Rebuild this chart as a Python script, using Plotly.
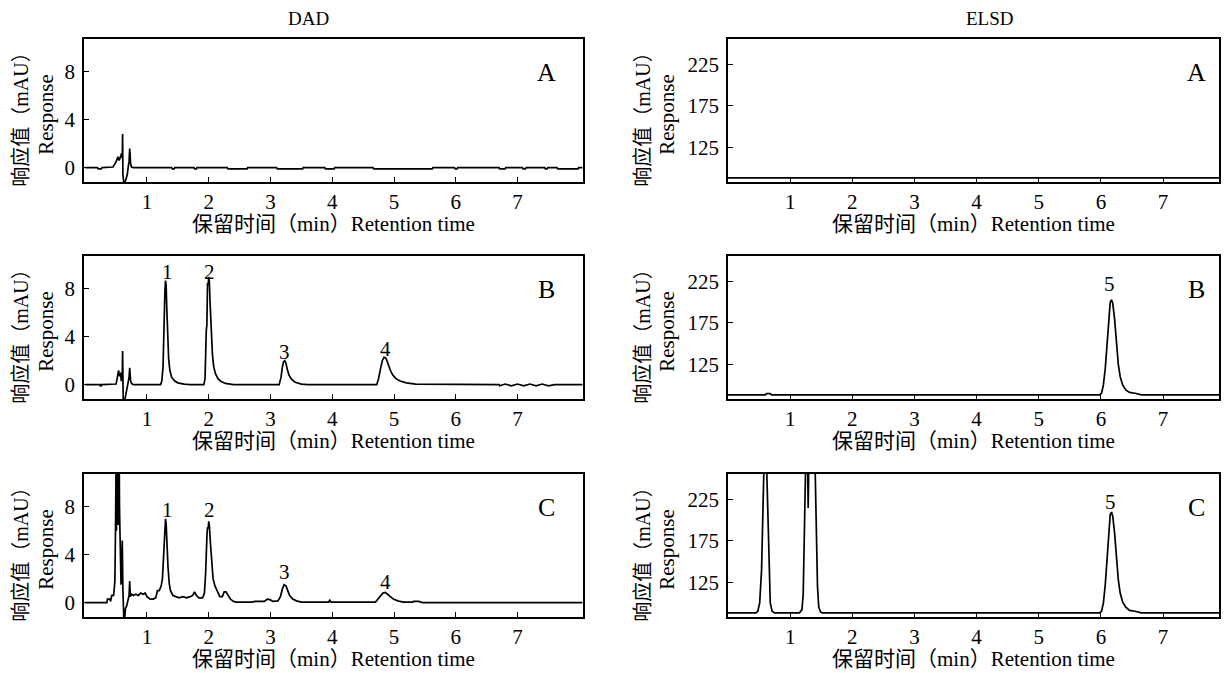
import plotly.graph_objects as go

# ---------------- data (time in min, response) ----------------
dad_a = [(0.00, 0.0), (0.20, 0.0), (0.21, -0.1), (0.26, -0.1), (0.27, 0.0), (0.45, 0.05),
         (0.50, 0.5), (0.53, 0.9), (0.55, 0.6), (0.57, 1.0), (0.59, 1.2), (0.600, 0.8),
         (0.605, 2.8), (0.610, -0.6), (0.615, -1.3), (0.625, -1.3), (0.64, -1.3), (0.66, -1.0),
         (0.68, -0.6), (0.70, 0.2), (0.71, 0.5), (0.72, 1.6), (0.725, 0.6), (0.735, 0.3),
         (0.75, 0.05), (0.78, 0.0),
         (1.40, 0.0), (1.41, -0.1), (1.44, -0.1), (1.45, 0.0),
         (1.76, 0.0), (1.77, -0.1), (1.80, -0.1), (1.81, 0.0),
         (2.30, 0.0), (2.31, -0.1), (2.62, -0.1), (2.63, 0.0),
         (3.10, 0.0), (3.11, -0.1), (3.52, -0.1), (3.53, 0.0),
         (3.88, 0.0), (3.89, -0.1), (4.03, -0.1), (4.04, 0.0),
         (4.66, 0.0), (4.67, -0.1), (5.62, -0.1), (5.63, 0.0),
         (5.98, 0.0), (5.99, -0.1), (6.02, -0.1), (6.03, 0.0),
         (6.70, 0.0), (6.71, -0.1), (6.80, -0.1), (6.81, 0.0),
         (7.08, 0.0), (7.09, -0.1), (7.13, -0.1), (7.14, 0.0),
         (7.44, 0.0), (7.45, -0.1), (7.48, -0.1), (7.49, 0.0),
         (7.64, 0.0), (7.65, -0.1), (7.98, -0.1), (7.99, 0.0), (8.05, 0.0)]

dad_b = [(0.00, 0.0), (0.24, 0.0), (0.245, -0.1), (0.26, -0.1), (0.265, 0.0), (0.50, 0.05),
         (0.52, 0.6), (0.54, 1.2), (0.555, 0.7), (0.57, 1.0), (0.585, 0.3), (0.60, 1.0),
         (0.605, 2.8), (0.61, -0.5), (0.615, -1.3), (0.64, -1.3), (0.655, -0.9), (0.67, -0.5),
         (0.69, 0.2), (0.71, 0.6), (0.72, 1.4), (0.725, 0.5), (0.735, 0.3), (0.75, 0.1), (0.78, 0.0),
         (1.22, 0.0), (1.24, 0.3), (1.26, 1.5), (1.27, 4.3), (1.28, 4.5), (1.29, 7.8), (1.30, 8.7),
         (1.31, 8.3), (1.32, 6.5), (1.33, 4.5), (1.35, 2.2), (1.37, 1.2), (1.40, 0.6), (1.45, 0.3),
         (1.50, 0.15), (1.60, 0.05), (1.70, 0.0),
         (1.92, 0.0), (1.94, 0.5), (1.96, 4.5), (1.97, 5.0), (1.98, 8.5), (1.99, 8.3), (2.00, 9.0),
         (2.01, 8.6), (2.02, 7.0), (2.04, 4.0), (2.06, 2.5), (2.08, 1.5), (2.11, 0.9), (2.15, 0.5),
         (2.20, 0.25), (2.27, 0.1), (2.40, 0.0),
         (3.14, 0.0), (3.17, 0.6), (3.19, 1.4), (3.21, 1.9), (3.23, 2.0), (3.25, 1.8), (3.27, 1.3),
         (3.30, 0.8), (3.34, 0.45), (3.40, 0.2), (3.50, 0.05), (3.60, 0.0),
         (4.72, 0.0), (4.75, 0.5), (4.78, 1.3), (4.81, 2.0), (4.84, 2.3), (4.87, 2.2), (4.90, 1.8),
         (4.94, 1.2), (4.98, 0.8), (5.03, 0.5), (5.10, 0.3), (5.20, 0.15), (5.35, 0.05),
         (5.45, 0.05), (5.46, 0.0),
         (6.70, 0.0), (6.71, -0.1), (6.80, 0.05), (6.90, -0.1), (7.00, 0.05), (7.10, -0.1),
         (7.20, 0.05), (7.30, -0.1), (7.40, 0.05), (7.50, -0.1), (7.60, 0.0), (8.05, 0.0)]

dad_c = [(0.00, 0.0), (0.35, 0.0), (0.36, 0.3), (0.40, 0.3), (0.41, 0.1), (0.43, 0.6), (0.46, 0.6),
         (0.48, 1.8), (0.49, 6.0), (0.50, 12.0), (0.505, 6.0), (0.51, 12.0), (0.515, 6.5),
         (0.52, 12.0), (0.525, 7.0), (0.53, 12.0), (0.535, 6.5), (0.54, 12.0), (0.545, 7.0),
         (0.55, 12.0), (0.555, 8.0), (0.56, 6.5), (0.57, 2.0), (0.58, 1.5),
         (0.59, 3.5), (0.60, 5.2), (0.61, 1.0), (0.625, -1.3), (0.64, -1.3), (0.65, -0.5),
         (0.67, -0.3), (0.69, 0.2), (0.71, 0.6), (0.72, 1.8), (0.73, 0.5), (0.75, 0.7), (0.78, 0.6),
         (0.82, 0.7), (0.86, 0.6), (0.90, 0.8), (0.94, 0.7), (0.97, 0.8), (1.00, 0.5), (1.05, 0.3),
         (1.10, 0.3), (1.14, 0.4), (1.17, 1.0), (1.20, 1.0), (1.23, 1.4), (1.25, 2.0), (1.27, 4.5),
         (1.28, 5.0), (1.29, 6.7), (1.30, 7.0), (1.31, 6.6), (1.32, 5.2), (1.34, 3.0), (1.36, 1.6),
         (1.38, 1.0), (1.42, 0.6), (1.47, 0.5), (1.52, 0.4), (1.58, 0.5), (1.64, 0.4), (1.70, 0.5),
         (1.74, 0.6), (1.77, 0.9), (1.80, 0.6), (1.84, 0.4), (1.90, 0.4), (1.93, 0.8), (1.95, 2.5),
         (1.97, 5.5), (1.98, 6.3), (1.99, 6.2), (2.00, 6.8), (2.01, 6.4), (2.03, 4.8), (2.05, 3.0),
         (2.07, 2.0), (2.10, 1.4), (2.14, 0.9), (2.18, 0.5), (2.22, 0.5), (2.25, 0.9), (2.28, 0.9),
         (2.31, 0.6), (2.35, 0.3), (2.40, 0.1), (2.45, 0.05), (2.70, 0.05), (2.75, 0.1), (2.90, 0.1),
         (2.95, 0.3), (2.99, 0.25), (3.04, 0.1), (3.12, 0.15), (3.16, 0.5), (3.19, 1.1), (3.22, 1.5),
         (3.25, 1.4), (3.28, 1.0), (3.31, 0.6), (3.36, 0.3), (3.42, 0.15), (3.50, 0.05), (3.70, 0.05),
         (3.72, 0.0), (3.94, 0.05), (3.96, 0.2), (3.98, 0.05), (4.70, 0.05), (4.74, 0.3), (4.78, 0.6),
         (4.82, 0.8), (4.86, 0.85), (4.90, 0.7), (4.94, 0.5), (4.99, 0.3), (5.06, 0.15), (5.15, 0.05),
         (5.30, 0.05), (5.32, 0.1), (5.40, 0.1), (5.45, 0.05), (5.46, 0.0), (8.05, 0.0)]

elsd_a = [(0.00, 88.0), (7.95, 88.0)]

elsd_b = [(0.00, 88.0), (0.60, 88.0), (0.62, 89.5), (0.68, 89.5), (0.70, 88.0), (5.98, 88.0),
          (6.01, 90.0), (6.04, 100.0), (6.07, 120.0), (6.10, 150.0), (6.13, 185.0), (6.15, 200.0),
          (6.17, 203.0), (6.19, 199.0), (6.22, 180.0), (6.25, 150.0), (6.28, 125.0), (6.31, 110.0),
          (6.35, 100.0), (6.40, 94.0), (6.46, 91.0), (6.55, 90.0), (6.62, 89.0), (6.65, 88.0),
          (7.95, 88.0)]

elsd_c = [(0.00, 88.0), (0.45, 88.0), (0.48, 90.0), (0.51, 100.0), (0.54, 140.0), (0.56, 220.0),
          (0.58, 270.0), (0.62, 270.0), (0.64, 210.0), (0.66, 130.0), (0.68, 100.0), (0.71, 90.0),
          (0.75, 88.0), (1.15, 88.0), (1.19, 92.0), (1.21, 110.0), (1.23, 180.0), (1.25, 270.0),
          (1.28, 270.0), (1.29, 215.0), (1.30, 270.0), (1.40, 270.0), (1.42, 200.0), (1.44, 120.0),
          (1.46, 95.0), (1.49, 89.0), (1.52, 88.0), (5.98, 88.0), (6.01, 90.0), (6.04, 100.0),
          (6.07, 122.0), (6.10, 155.0), (6.13, 192.0), (6.15, 207.0), (6.17, 210.0), (6.19, 205.0),
          (6.22, 185.0), (6.25, 155.0), (6.28, 128.0), (6.31, 112.0), (6.35, 101.0), (6.40, 95.0),
          (6.46, 91.0), (6.55, 90.0), (6.62, 89.0), (6.65, 88.0), (7.95, 88.0)]

# peak labels: (panel, time, y, text); panels 1..6 = A-DAD, A-ELSD, B-DAD, B-ELSD, C-DAD, C-ELSD
peak_labels = [
    (3, 1.33, 9.45, "1"), (3, 2.02, 9.45, "2"), (3, 3.23, 2.75, "3"), (3, 4.87, 2.95, "4"),
    (4, 6.14, 222.0, "5"),
    (5, 1.33, 7.75, "1"), (5, 2.02, 7.75, "2"), (5, 3.23, 2.55, "3"), (5, 4.87, 1.7, "4"),
    (6, 6.15, 222.0, "5"),
]

panel_letters = ["A", "A", "B", "B", "C", "C"]
column_titles = ["DAD", "ELSD"]

dad_ticks = [0, 4, 8]
elsd_ticks = [125, 175, 225]
time_ticks = [1, 2, 3, 4, 5, 6, 7]

x_title = "保留时间（min）Retention time"
y_title_cn = "响应值（mAU）"
y_title_en = "Response"

# ---------------- layout ----------------
W, H = 1225, 673
SERIF = "'Liberation Serif', 'Times New Roman', 'Noto Sans CJK SC', serif"

rows_px = [(39, 182), (256, 399), (474, 617)]
cols_px = [(84, 583), (728, 1219)]
x_ranges = [[-0.02, 8.06], [0.0, 7.9]]
y_ranges = [[-1.2, 10.75], [83.0, 256.0]]

series = [dad_a, elsd_a, dad_b, elsd_b, dad_c, elsd_c]

fig = go.Figure()
annotations = []


def ann(**kw):
    base = dict(showarrow=False, xanchor="center", yanchor="middle")
    base.update(kw)
    annotations.append(base)


for i, data in enumerate(series):
    r, c = divmod(i, 2)
    n = i + 1
    suffix = "" if n == 1 else str(n)
    t = [p[0] for p in data]
    v = [p[1] for p in data]
    fig.add_trace(go.Scatter(x=t, y=v, mode="lines", line=dict(color="black", width=1.7),
                             xaxis="x" + suffix, yaxis="y" + suffix, showlegend=False,
                             hoverinfo="skip"))
    top, bot = rows_px[r]
    left, right = cols_px[c]
    common = dict(showline=True, linecolor="black", linewidth=1.7, mirror=True,
                  ticks="inside", ticklen=5, tickwidth=1.4, tickcolor="black",
                  showgrid=False, zeroline=False,
                  tickfont=dict(family=SERIF, size=21, color="black"))
    fig.layout["xaxis" + suffix] = dict(
        common, domain=[left / W, right / W], range=x_ranges[c],
        tickvals=time_ticks, anchor="y" + suffix)
    fig.layout["yaxis" + suffix] = dict(
        common, domain=[1 - bot / H, 1 - top / H], range=y_ranges[c],
        tickvals=dad_ticks if c == 0 else elsd_ticks, anchor="x" + suffix,
        ticklabelstandoff=3)

    # panel letter
    letter_px = 546 if c == 0 else 1196
    ann(text=panel_letters[i], xref="paper", yref="y%s domain" % suffix,
        x=letter_px / W, y=0.765, font=dict(family=SERIF, size=26, color="black"))
    # x axis title
    ann(text=x_title, xref="x%s domain" % suffix, yref="paper",
        x=0.5, y=1 - (bot + 42) / H, font=dict(family=SERIF, size=21, color="black"))
    # y axis titles (two rotated lines)
    cx_cn = 21 if c == 0 else 643
    cx_en = 46 if c == 0 else 667
    ann(text=y_title_cn, xref="paper", yref="y%s domain" % suffix,
        x=cx_cn / W, y=0.47, textangle=-90, font=dict(family=SERIF, size=20, color="black"))
    ann(text=y_title_en, xref="paper", yref="y%s domain" % suffix,
        x=cx_en / W, y=0.47, textangle=-90, font=dict(family=SERIF, size=21, color="black"))

for panel, tx, ty, txt in peak_labels:
    suffix = "" if panel == 1 else str(panel)
    ann(text=txt, xref="x" + suffix, yref="y" + suffix, x=tx, y=ty,
        font=dict(family=SERIF, size=21, color="black"))

ann(text=column_titles[0], xref="paper", yref="paper", x=308 / W, y=1 - 18 / H,
    font=dict(family=SERIF, size=19, color="black"))
ann(text=column_titles[1], xref="paper", yref="paper", x=990 / W, y=1 - 18 / H,
    font=dict(family=SERIF, size=19, color="black"))

fig.update_layout(width=W, height=H, margin=dict(l=0, r=0, t=0, b=0),
                  paper_bgcolor="white", plot_bgcolor="white",
                  annotations=annotations, showlegend=False)

fig.write_html("out.html", config={"displayModeBar": False},
               post_script="document.body.style.margin='0';document.body.style.overflow='hidden';")
